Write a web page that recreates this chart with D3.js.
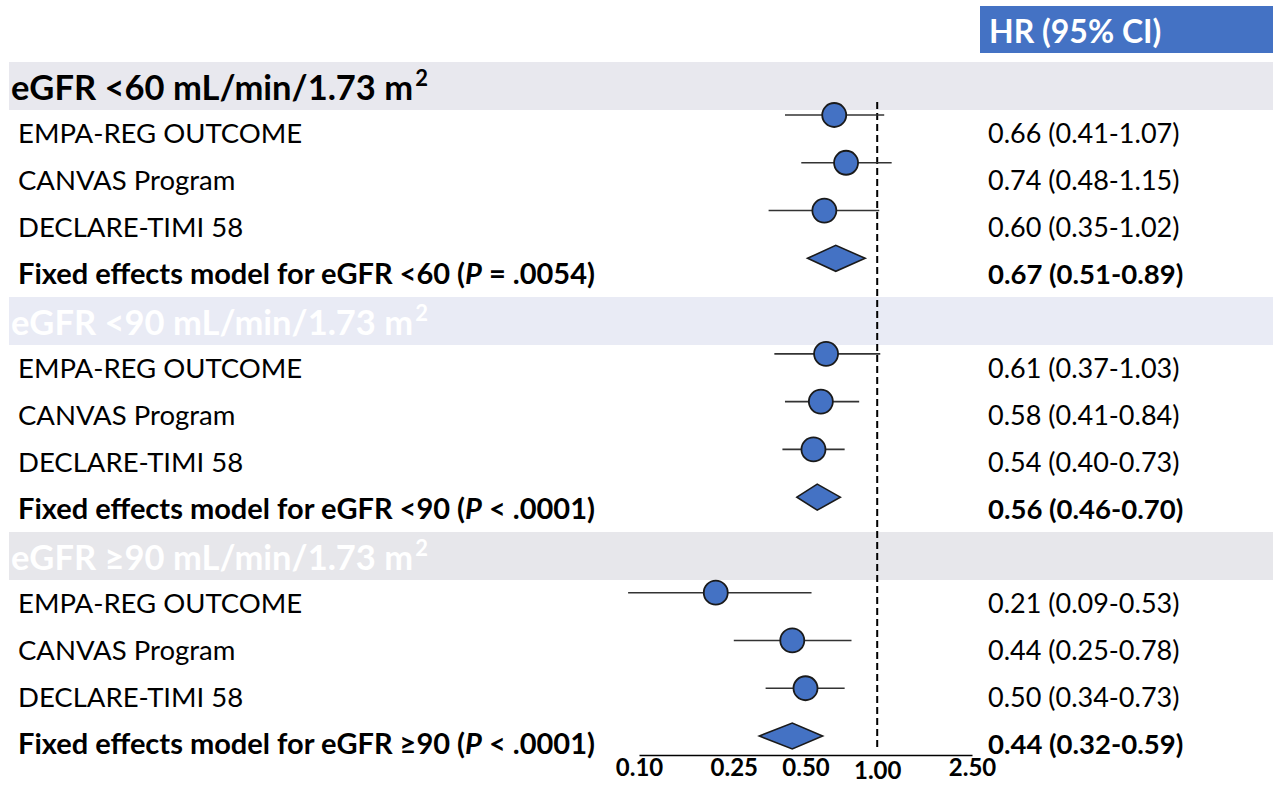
<!DOCTYPE html>
<html>
<head>
<meta charset="utf-8">
<script src="https://cdn.jsdelivr.net/npm/d3@7"></script>
<style>
  body { margin: 0; background: #ffffff; }
  text { font-family: Lato, "Open Sans", sans-serif; }
</style>
</head>
<body>
<svg id="chart" width="1273" height="788"></svg>
<script>
// Subgroup headings (superscript "2" is appended when drawn)
const groupTitles = ["eGFR <60 mL/min/1.73 m", "eGFR <90 mL/min/1.73 m", "eGFR \u226590 mL/min/1.73 m"];
const trialNames = ["EMPA-REG OUTCOME", "CANVAS Program", "DECLARE-TIMI 58"];
const pooledPrefix = ["Fixed effects model for eGFR <60 (", "Fixed effects model for eGFR <90 (", "Fixed effects model for eGFR \u226590 ("];
const pooledPText = [" = .0054)", " < .0001)", " < .0001)"];

// Hazard ratios and 95% CIs per trial, one array per subgroup
const trialHR    = [[0.66, 0.74, 0.60], [0.61, 0.58, 0.54], [0.21, 0.44, 0.50]];
const trialLower = [[0.41, 0.48, 0.35], [0.37, 0.41, 0.40], [0.09, 0.25, 0.34]];
const trialUpper = [[1.07, 1.15, 1.02], [1.03, 0.84, 0.73], [0.53, 0.78, 0.73]];

// Fixed-effects pooled estimates per subgroup
const pooledHR    = [0.67, 0.56, 0.44];
const pooledLower = [0.51, 0.46, 0.32];
const pooledUpper = [0.89, 0.70, 0.59];

const tickValues = [0.10, 0.25, 0.50, 1.00, 2.50];
const columnTitle = "HR (95% CI)";

const fmt = d3.format(".2f");

// Flatten into rows: heading, three trials, pooled, per subgroup
const rows = [];
groupTitles.forEach((g, gi) => {
  rows.push({ type: "head", group: gi, title: g });
  trialNames.forEach((t, ti) => {
    rows.push({ type: "trial", group: gi, name: t,
      hr: trialHR[gi][ti], lo: trialLower[gi][ti], hi: trialUpper[gi][ti] });
  });
  rows.push({ type: "pooled", group: gi,
    hr: pooledHR[gi], lo: pooledLower[gi], hi: pooledUpper[gi] });
});
rows.forEach((r, i) => r.index = i);

const svg = d3.select("#chart");

// Scales
const x = d3.scaleLog().domain([0.10, 2.50]).range([639, 972]);
const textY = d3.scaleLinear().domain([1, 14]).range([134, 745]);
const markY = d3.scaleLinear().domain([1, 14]).range([115, 736]);

const bandFill = ["#e8e8ee", "#e9ebf5", "#e7e7eb"];
const headColor = ["#000000", "#ffffff", "#ffffff"];
const blue = "#4472c4";

// Column title box
svg.append("rect").attr("x", 980).attr("y", 6).attr("width", 293).attr("height", 47).attr("fill", blue);
svg.append("text").attr("x", 989).attr("y", 43)
  .attr("font-size", 32).attr("font-weight", 700).attr("fill", "#ffffff")
  .text(columnTitle);

// Subgroup heading bands
const heads = rows.filter(r => r.type === "head");
svg.selectAll("rect.band").data(heads).join("rect")
  .attr("class", "band")
  .attr("x", 9).attr("width", 1264)
  .attr("y", d => textY(d.index) - 25).attr("height", 48)
  .attr("fill", d => bandFill[d.group]);

const headText = svg.selectAll("text.head").data(heads).join("text")
  .attr("class", "head")
  .attr("x", 11).attr("y", d => textY(d.index) + 13)
  .attr("font-size", 34.5).attr("font-weight", 700)
  .attr("fill", d => headColor[d.group]);
headText.append("tspan").text(d => d.title);
headText.append("tspan").attr("font-size", 22).attr("dy", -14).attr("dx", 2).text("2");

// Row labels
const trials = rows.filter(r => r.type === "trial");
const pooled = rows.filter(r => r.type === "pooled");

svg.selectAll("text.trial").data(trials).join("text")
  .attr("class", "trial")
  .attr("x", 18).attr("y", d => textY(d.index) + 9)
  .attr("font-size", 27.5).attr("fill", "#000")
  .text(d => d.name);

const pl = svg.selectAll("text.pooled").data(pooled).join("text")
  .attr("class", "pooled")
  .attr("x", 18).attr("y", d => textY(d.index) + 9)
  .attr("font-size", 29).attr("font-weight", 700).attr("fill", "#000");
pl.append("tspan").text(d => pooledPrefix[d.group]);
pl.append("tspan").attr("font-style", "italic").text("P");
pl.append("tspan").text(d => pooledPText[d.group]);

// HR (95% CI) column
svg.selectAll("text.ci").data(trials.concat(pooled)).join("text")
  .attr("class", "ci")
  .attr("x", 988).attr("y", d => textY(d.index) + 9)
  .attr("font-size", d => d.type === "pooled" ? 27.5 : 27)
  .attr("font-weight", d => d.type === "pooled" ? 700 : 400)
  .attr("fill", "#000")
  .text(d => `${fmt(d.hr)} (${fmt(d.lo)}-${fmt(d.hi)})`);

// Line of no effect
svg.append("line")
  .attr("x1", x(1)).attr("x2", x(1))
  .attr("y1", markY(1) - 13).attr("y2", markY(14) + 12)
  .attr("stroke", "#000").attr("stroke-width", 2).attr("stroke-dasharray", "7,4");

// Trial confidence intervals and point estimates
svg.selectAll("line.ci").data(trials).join("line")
  .attr("class", "ci")
  .attr("x1", d => x(d.lo)).attr("x2", d => x(d.hi))
  .attr("y1", d => markY(d.index)).attr("y2", d => markY(d.index))
  .attr("stroke", "#333").attr("stroke-width", 1.6);

svg.selectAll("circle.pt").data(trials).join("circle")
  .attr("class", "pt")
  .attr("cx", d => x(d.hr)).attr("cy", d => markY(d.index)).attr("r", 12)
  .attr("fill", blue).attr("stroke", "#1a1a1a").attr("stroke-width", 1.8);

// Pooled diamonds
svg.selectAll("path.diamond").data(pooled).join("path")
  .attr("class", "diamond")
  .attr("d", d => {
    const y = markY(d.index), h = 13;
    return `M${x(d.lo)},${y}L${x(d.hr)},${y - h}L${x(d.hi)},${y}L${x(d.hr)},${y + h}Z`;
  })
  .attr("fill", blue).attr("stroke", "#1a1a1a").attr("stroke-width", 1.6);

// Axis
const axis = svg.append("g").attr("transform", "translate(0,755)")
  .call(d3.axisBottom(x).tickValues(tickValues).tickFormat(fmt).tickSize(0).tickPadding(4));
axis.select(".domain").attr("stroke", "#000").attr("stroke-width", 1.6);
axis.selectAll(".tick text")
  .attr("font-family", "Lato, 'Open Sans', sans-serif")
  .attr("font-size", 24).attr("font-weight", 700).attr("fill", "#000")
  .attr("dy", d => d === 1 ? "0.82em" : "0.7em");
</script>
</body>
</html>
